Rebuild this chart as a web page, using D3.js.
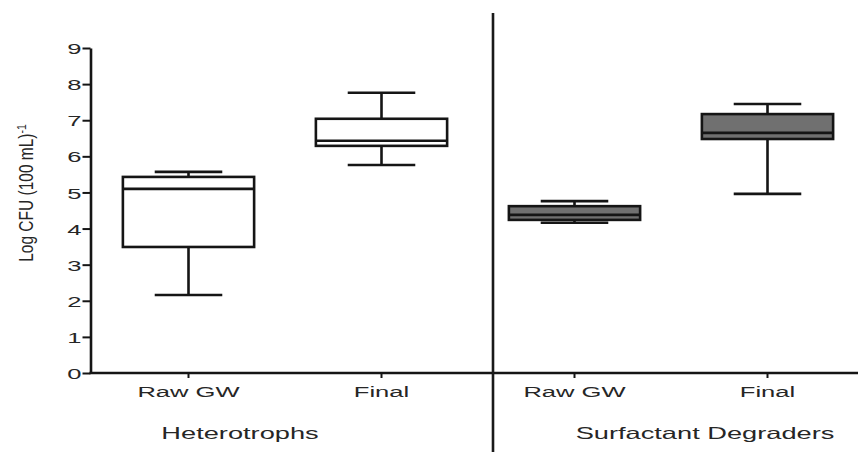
<!DOCTYPE html>
<html>
<head>
<meta charset="utf-8">
<script src="https://cdn.jsdelivr.net/npm/d3@7"></script>
<style>
  html, body { margin: 0; padding: 0; background: #fff; }
  svg { display: block; }
  text { font-family: "Liberation Sans", Arial, sans-serif; fill: #262626; }
</style>
</head>
<body>
<svg id="chart" width="858" height="452"></svg>
<script>
// ---- data ----
const categories = ["Raw GW", "Final", "Raw GW ", "Final "];
const groupOf = ["Heterotrophs", "Heterotrophs", "Surfactant Degraders", "Surfactant Degraders"];
const groups = ["Heterotrophs", "Surfactant Degraders"];
const whiskerLow  = [2.16, 5.76, 4.16, 4.96];
const q1          = [3.49, 6.29, 4.24, 6.48];
const median      = [5.10, 6.43, 4.38, 6.65];
const q3          = [5.43, 7.04, 4.62, 7.17];
const whiskerHigh = [5.57, 7.76, 4.76, 7.45];
const yTicks = [0, 1, 2, 3, 4, 5, 6, 7, 8, 9];
const fills = { "Heterotrophs": "#ffffff", "Surfactant Degraders": "#707070" };

// ---- layout ----
const W = 858, H = 452;
const axisX = 90.5, axisY = 373;
const sx = 1.65; // horizontal text stretch seen in the reference
const svg = d3.select("#chart");

const x = d3.scaleBand().domain(categories).range([92, 864]).padding(0);
const y = d3.scaleLinear().domain([0, 9]).range([axisY, 48]);

const stroke = "#151515", sw = 2.6;
const boxW = x.bandwidth() * 0.68;
const capW = x.bandwidth() * 0.35;

// y axis
const yAxis = svg.append("g").attr("transform", `translate(${axisX},0)`)
  .call(d3.axisLeft(y).tickValues(yTicks).tickSize(8).tickSizeOuter(0));
yAxis.select(".domain").attr("stroke", stroke).attr("stroke-width", sw);
yAxis.selectAll(".tick line").attr("stroke", stroke).attr("stroke-width", 2);
yAxis.selectAll(".tick text")
  .attr("x", 0).attr("dy", "0.36em")
  .attr("transform", `translate(-9,0) scale(${sx},1)`)
  .attr("font-size", 15.5).attr("fill", "#262626")
  .attr("font-family", "Liberation Sans, Arial, sans-serif");

// x axis line
svg.append("line").attr("x1", axisX - 1).attr("x2", W).attr("y1", axisY).attr("y2", axisY)
  .attr("stroke", stroke).attr("stroke-width", sw);
// x ticks
svg.selectAll(".xtick").data(categories).join("line")
  .attr("x1", d => x(d) + x.bandwidth() / 2).attr("x2", d => x(d) + x.bandwidth() / 2)
  .attr("y1", axisY).attr("y2", axisY + 5)
  .attr("stroke", stroke).attr("stroke-width", 2);
// category labels
svg.selectAll(".xlab").data(categories).join("text")
  .attr("transform", d => `translate(${x(d) + x.bandwidth() / 2},397) scale(${sx},1)`)
  .attr("text-anchor", "middle").attr("font-size", 15.5)
  .text(d => d.trim());

// group labels
const groupCenters = [240, 705];
svg.selectAll(".glab").data(groups).join("text")
  .attr("transform", (d, i) => `translate(${groupCenters[i]},438.5) scale(${sx},1)`)
  .attr("text-anchor", "middle").attr("font-size", 16.5)
  .text(d => d);

// divider
svg.append("line").attr("x1", 493).attr("x2", 493).attr("y1", 13).attr("y2", H)
  .attr("stroke", "#1a1a1a").attr("stroke-width", 2.6);

// y axis title
const yt = svg.append("text")
  .attr("transform", `translate(33,193) scale(1.3,1) rotate(-90)`)
  .attr("text-anchor", "middle").attr("font-size", 15.5);
yt.append("tspan").text("Log CFU (100 mL)");
yt.append("tspan").attr("dy", "-0.5em").attr("font-size", 10.5).text("-1");

// boxes
const boxes = svg.selectAll(".box").data(categories).join("g")
  .attr("transform", d => `translate(${x(d) + x.bandwidth() / 2},0)`);
boxes.append("line")
  .attr("x1", 0).attr("x2", 0)
  .attr("y1", (d, i) => y(whiskerLow[i])).attr("y2", (d, i) => y(q1[i]))
  .attr("stroke", stroke).attr("stroke-width", sw);
boxes.append("line")
  .attr("x1", 0).attr("x2", 0)
  .attr("y1", (d, i) => y(q3[i])).attr("y2", (d, i) => y(whiskerHigh[i]))
  .attr("stroke", stroke).attr("stroke-width", sw);
boxes.append("line")
  .attr("x1", -capW / 2).attr("x2", capW / 2)
  .attr("y1", (d, i) => y(whiskerLow[i])).attr("y2", (d, i) => y(whiskerLow[i]))
  .attr("stroke", stroke).attr("stroke-width", sw);
boxes.append("line")
  .attr("x1", -capW / 2).attr("x2", capW / 2)
  .attr("y1", (d, i) => y(whiskerHigh[i])).attr("y2", (d, i) => y(whiskerHigh[i]))
  .attr("stroke", stroke).attr("stroke-width", sw);
boxes.append("rect")
  .attr("x", -boxW / 2).attr("width", boxW)
  .attr("y", (d, i) => y(q3[i])).attr("height", (d, i) => y(q1[i]) - y(q3[i]))
  .attr("fill", (d, i) => fills[groupOf[i]])
  .attr("stroke", stroke).attr("stroke-width", sw);
boxes.append("line")
  .attr("x1", -boxW / 2).attr("x2", boxW / 2)
  .attr("y1", (d, i) => y(median[i])).attr("y2", (d, i) => y(median[i]))
  .attr("stroke", stroke).attr("stroke-width", sw);
</script>
</body>
</html>
